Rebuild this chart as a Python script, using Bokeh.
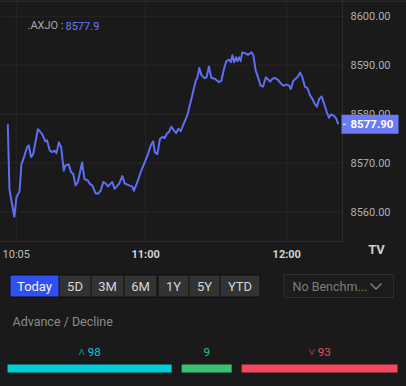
from bokeh.plotting import figure
from bokeh.models import Range1d, ColumnDataSource, GlobalInlineStyleSheet
from bokeh.core.properties import value
from bokeh.embed import file_html
from bokeh.resources import INLINE

# ---------------- data ----------------
symbol = ".AXJO"
# minutes after 10:00
minutes = [1.4, 2.1, 3.2, 4.2, 5.1, 6.4, 7.2, 8.5, 9.6, 10.3,
           11.3, 12.2, 14.2, 16.0, 17.4, 18.1, 19.3, 20.3, 21.3, 22.1,
           23.1, 24.1, 25.2, 25.9, 27.3, 28.3, 29.2, 30.2, 31.2, 33.0,
           34.0, 35.4, 36.3, 37.3, 38.7, 39.7, 40.9, 42.0, 43.0, 44.0,
           45.8, 46.8, 48.7, 50.1, 51.1, 52.9, 54.3, 55.0, 56.5, 57.9,
           59.6, 61.0, 62.2, 63.2, 63.9, 65.0, 66.1, 67.1, 68.1, 69.2,
           69.9, 70.9, 72.1, 73.0, 73.9, 74.9, 76.0, 77.7, 79.1, 80.3,
           81.3, 82.0, 82.8, 83.8, 85.1, 85.9, 86.9, 87.9, 89.3, 90.5,
           91.2, 92.2, 93.3, 94.3, 95.5, 96.2, 96.9, 97.6, 98.4, 99.0,
           99.7, 100.4, 101.1, 102.5, 103.5, 105.0, 105.8, 106.8, 107.8, 108.9,
           109.9, 111.1, 112.2, 112.9, 113.9, 114.9, 116.3, 117.4, 118.6, 120.0,
           121.0, 121.7, 122.8, 123.8, 124.8, 125.7, 126.7, 127.7, 128.8, 129.9,
           130.9, 131.9, 132.8, 133.8, 134.8, 135.9, 137.0, 138.0, 138.7, 139.9,
           140.9, 141.9]
prices = [8577.9, 8564.7, 8561.6, 8559.0, 8563.0, 8564.2, 8569.7, 8571.5, 8573.2, 8573.6,
          8571.2, 8571.8, 8576.9, 8575.9, 8574.4, 8574.6, 8572.5, 8572.2, 8572.5, 8572.0,
          8574.2, 8573.2, 8568.4, 8569.5, 8569.7, 8568.1, 8567.8, 8565.4, 8566.1, 8570.1,
          8566.7, 8566.4, 8565.7, 8565.4, 8563.8, 8563.7, 8564.3, 8566.1, 8565.8, 8565.2,
          8566.1, 8564.7, 8565.7, 8567.3, 8565.8, 8565.4, 8565.2, 8564.3, 8566.1, 8568.1,
          8570.1, 8571.8, 8573.6, 8574.4, 8572.2, 8571.8, 8574.9, 8575.3, 8575.1, 8576.1,
          8576.3, 8577.4, 8576.6, 8576.1, 8577.0, 8576.5, 8577.8, 8579.7, 8582.4, 8584.8,
          8586.8, 8587.4, 8589.4, 8587.9, 8587.3, 8587.5, 8589.7, 8587.4, 8587.2, 8586.8,
          8586.5, 8586.8, 8589.2, 8590.8, 8591.1, 8590.6, 8592.0, 8590.6, 8591.6, 8590.8,
          8591.6, 8590.8, 8592.6, 8592.4, 8592.1, 8592.6, 8592.0, 8588.9, 8587.5, 8585.8,
          8585.6, 8587.5, 8587.0, 8586.6, 8587.2, 8587.4, 8587.0, 8586.3, 8585.8, 8586.0,
          8585.8, 8585.1, 8586.8, 8587.2, 8587.7, 8588.5, 8587.4, 8585.6, 8585.3, 8583.8,
          8583.1, 8582.1, 8581.5, 8583.1, 8583.6, 8582.1, 8580.4, 8579.2, 8579.9, 8579.7,
          8579.2, 8577.9]
tick_minutes = [5, 60, 120]
tick_labels = ["10:05", "11:00", "12:00"]
price_ticks = [8560, 8570, 8580, 8590, 8600]

periods = ["Today", "5D", "3M", "6M", "1Y", "5Y", "YTD"]
benchmark_text = "No Benchm..."
breadth_title = "Advance / Decline"
breadth_names = ["Advance", "Unchanged", "Decline"]
breadth_counts = [98, 9, 93]
breadth_prefix = ["\u02c4 ", "", "\u02c5 "]

# ---------------- style / layout ----------------
W, H = 406, 386
CHART_W, CHART_H = 342, 241          # chart area in pixels (from top-left)
T_LEFT, T_RIGHT = -1.7, 143.7        # visible minutes across the chart area
P_TOP, P_BOTTOM = 8603.21, 8553.93   # visible prices across the chart area

BG = "#1a1a1a"
GRID = "#262626"
EDGE = "#2c2c2c"
LINE = "#5d6ef4"
PRICE_BG = "#6b7bf7"
AXIS_TXT = "#b0b0b0"
FONT = "Roboto"
breadth_colors = ["#00cdd5", "#38c172", "#f5475b"]

last = prices[-1]

p = figure(width=W, height=H,
           x_range=Range1d(0, W), y_range=Range1d(H, 0),
           output_backend="svg", toolbar_location=None,
           x_axis_location=None, y_axis_location=None,
           min_border=0, background_fill_color=BG, border_fill_color=BG,
           outline_line_color=None)
p.xgrid.visible = False
p.ygrid.visible = False

# data scales laid over the chart area
p.extra_x_ranges = {"time": Range1d(T_LEFT, T_LEFT + (T_RIGHT - T_LEFT) * W / CHART_W)}
p.extra_y_ranges = {"price": Range1d(P_TOP - (P_TOP - P_BOTTOM) * H / CHART_H, P_TOP)}

# top border
p.segment(x0=[0], x1=[W], y0=[0.5], y1=[0.5], line_color="#383838", line_width=1)

# grid lines
p.segment(x0=tick_minutes, x1=tick_minutes,
          y0=[P_BOTTOM] * len(tick_minutes), y1=[P_TOP] * len(tick_minutes),
          x_range_name="time", y_range_name="price", line_color=GRID, line_width=1)
p.segment(x0=[T_LEFT] * len(price_ticks), x1=[T_RIGHT] * len(price_ticks),
          y0=price_ticks, y1=price_ticks,
          x_range_name="time", y_range_name="price", line_color=GRID, line_width=1)
# chart edges (bottom and right)
p.segment(x0=[T_LEFT, T_RIGHT], x1=[T_RIGHT, T_RIGHT], y0=[P_BOTTOM, P_BOTTOM],
          y1=[P_BOTTOM, P_TOP], x_range_name="time", y_range_name="price",
          line_color=EDGE, line_width=1)

# price line
p.line(minutes, prices, x_range_name="time", y_range_name="price",
       line_color=LINE, line_width=2, line_join="round")

# y tick labels (price scale, right side)
p.text(x=[350] * len(price_ticks), y=price_ticks, y_range_name="price",
       text=[f"{v:.2f}" for v in price_ticks], text_color=AXIS_TXT,
       text_font=value(FONT), text_font_size="11px",
       text_align="left", text_baseline="middle")
# x tick labels (time scale, below chart)
xlab_src = ColumnDataSource(dict(
    x=tick_minutes, y=[254] * len(tick_minutes), text=tick_labels,
    style=["normal" if not l.endswith(":00") else "bold" for l in tick_labels],
    color=["#bdbdbd" if not l.endswith(":00") else "#d4d4d4" for l in tick_labels]))
p.text(x="x", y="y", text="text", source=xlab_src, x_range_name="time",
       text_color="color", text_font=value(FONT), text_font_size="11px",
       text_font_style="style", text_align="center", text_baseline="middle")

# last price tag
p.rect(x=[369.5], y=[last], width=57, height=19, width_units="screen",
       height_units="screen", y_range_name="price",
       fill_color=PRICE_BG, line_color=None)
p.segment(x0=[342.5], x1=[345.5], y0=[last], y1=[last], y_range_name="price",
          line_color="white", line_width=1)
p.text(x=[350], y=[last], y_range_name="price", text=[f"{last:.2f}"],
       text_color="white", text_font=value(FONT), text_font_size="11.5px",
       text_font_style="bold", text_align="left", text_baseline="middle")

# legend title
p.text(x=[27], y=[25], text=[symbol + " :"], text_color="#a8a8a8",
       text_font=value(FONT), text_font_size="11px",
       text_align="left", text_baseline="middle")
p.text(x=[65], y=[25], text=[f"{last:.1f}"], text_color=PRICE_BG,
       text_font=value(FONT), text_font_size="11px",
       text_align="left", text_baseline="middle")

# logo
p.text(x=[376], y=[249], text=["TV"], text_color="#cfcfcf",
       text_font=value(FONT), text_font_size="13px", text_font_style="bold",
       text_align="center", text_baseline="middle")

# ---------------- period buttons ----------------
btn_left = [10, 59, 91, 124, 158, 189, 220]
btn_right = [58, 90, 123, 156, 188, 219, 259]
btn_top, btn_bottom = 275, 296
p.quad(left=9, right=260, top=btn_top - 1.3, bottom=btn_bottom + 1.3,
       fill_color="#101010", line_color=None)
btn_src = ColumnDataSource(dict(
    left=btn_left, right=btn_right,
    top=[btn_top] * len(periods), bottom=[btn_bottom] * len(periods),
    fill=["#3050f6"] + ["#333333"] * (len(periods) - 1), name=periods,
    cx=[(a + b) / 2 for a, b in zip(btn_left, btn_right)],
    cy=[(btn_top + btn_bottom) / 2 + 0.5] * len(periods),
    tc=["#f4f4f4"] + ["#d6d6d6"] * (len(periods) - 1)))
p.quad(left="left", right="right", top="top", bottom="bottom",
       fill_color="fill", line_color=None, source=btn_src)
p.text(x="cx", y="cy", text="name", text_color="tc", source=btn_src,
       text_font=value(FONT), text_font_size="13px",
       text_align="center", text_baseline="middle")

# benchmark dropdown
p.quad(left=283.5, right=393, top=274, bottom=297, fill_color="#1c1c1c",
       line_color="#2e2e2e", line_width=1)
p.text(x=[292], y=[286], text=[benchmark_text], text_color="#7c7c7c",
       text_font=value(FONT), text_font_size="12.5px",
       text_align="left", text_baseline="middle")
p.line(x=[370, 375.5, 381], y=[283, 288.5, 283], line_color="#8a8a8a", line_width=1.2)

# ---------------- advance / decline ----------------
p.text(x=[12], y=[321], text=[breadth_title], text_color="#8a8a8a",
       text_font=value(FONT), text_font_size="12.5px",
       text_align="left", text_baseline="middle")

bar_x0, bar_x1, gap, min_w = 7, 397, 10, 50
avail = (bar_x1 - bar_x0) - gap * (len(breadth_counts) - 1)
small = [c for c in breadth_counts if c * avail / sum(breadth_counts) < min_w]
k = (avail - min_w * len(small)) / (sum(breadth_counts) - sum(small))
widths = [max(min_w, c * k) if c in small else c * k for c in breadth_counts]
lefts, rights = [], []
cur = bar_x0
for w in widths:
    lefts.append(cur)
    rights.append(cur + w)
    cur += w + gap
bar_src = ColumnDataSource(dict(
    left=lefts, right=rights, top=[364] * 3, bottom=[372] * 3,
    color=breadth_colors, name=breadth_names,
    cx=[(a + b) / 2 for a, b in zip(lefts, rights)], cy=[351] * 3,
    label=[pre + str(c) for pre, c in zip(breadth_prefix, breadth_counts)]))
p.quad(left="left", right="right", top="top", bottom="bottom",
       fill_color="color", line_color=None, source=bar_src)
p.text(x="cx", y="cy", text="label", text_color="color", source=bar_src,
       text_font=value(FONT), text_font_size="11.5px",
       text_align="center", text_baseline="middle")

p.stylesheets = [GlobalInlineStyleSheet(css="html, body { background-color: #1a1a1a; }")]

open("out.html", "w").write(file_html(p, INLINE))
